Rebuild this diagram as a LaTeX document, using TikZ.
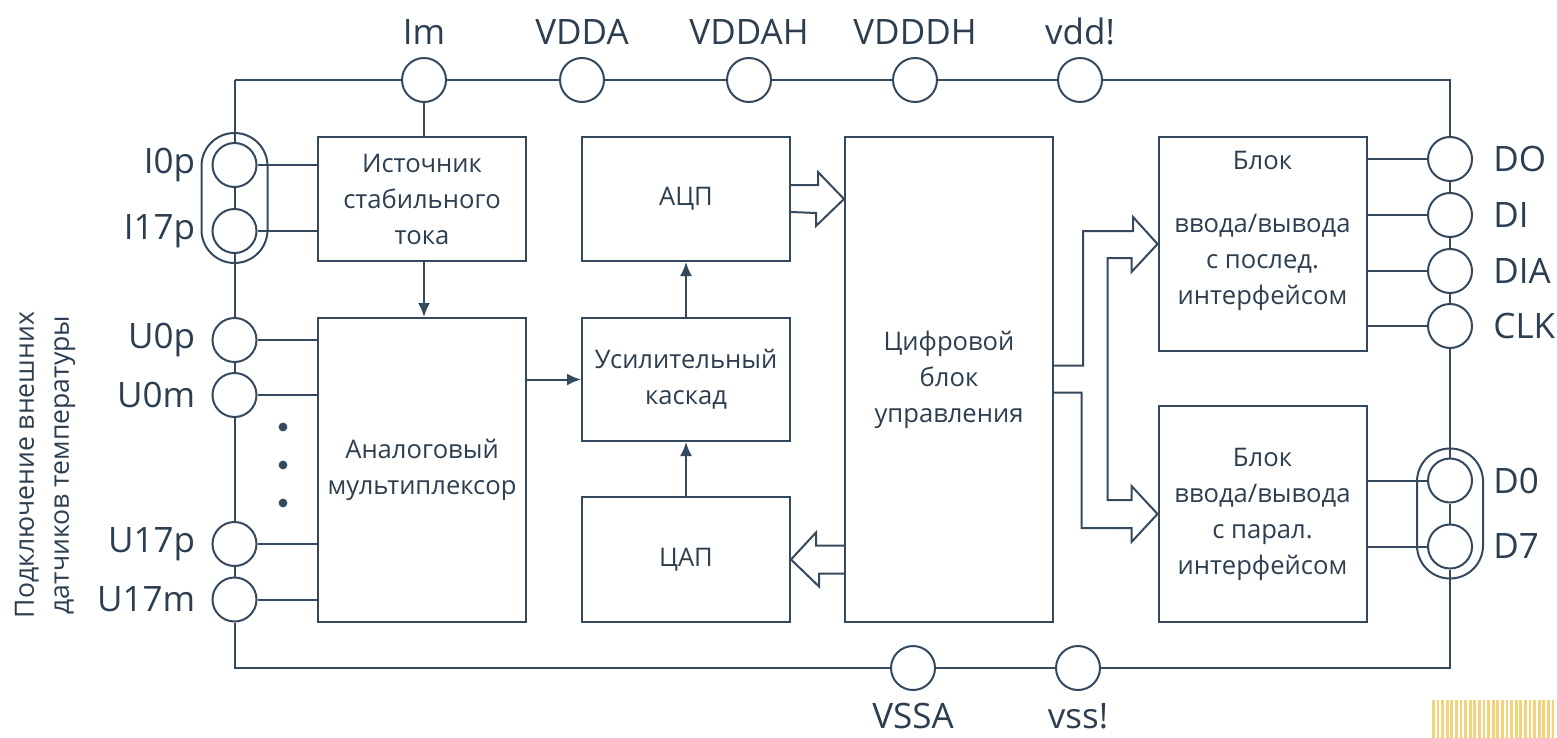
\documentclass[tikz,border=0pt]{standalone}
\usepackage{fontspec}
\setmainfont{Open Sans}
\usetikzlibrary{positioning,arrows.meta}
\definecolor{ink}{HTML}{34495E}
\definecolor{txt}{HTML}{2C3E50}
\definecolor{stripe}{HTML}{F6D27A}
\tikzset{
  pad/.style={circle,draw=ink,fill=white,line width=1pt,minimum size=22pt,inner sep=0pt},
  padname/.style={text=txt,font=\fontsize{17.5}{20}\selectfont,inner sep=0pt},
  capsule/.style={draw=ink,line width=1pt,rounded corners=16.5pt,minimum width=33pt,minimum height=65pt,inner sep=0pt},
  block/.style={draw=ink,line width=1pt,align=center,text=txt,font=\fontsize{12.8}{18}\selectfont,minimum width=104pt,inner sep=0pt},
  wire/.style={draw=ink,line width=1pt},
  sig/.style={wire,-{Latex[length=7pt,width=6pt]}},
  fat/.style={wire,line join=miter},
}
\begin{document}
\begin{tikzpicture}[x=0.5pt,y=-0.5pt]
\useasboundingbox (0,0) rectangle (1557,738);
\node[block,minimum height=62pt] (src) at (422,199) {Источник\\стабильного\\тока};
\node[block,minimum height=152pt] (mux) at (422,470) {Аналоговый\\мультиплексор};
\node[block,minimum height=62pt] (adc) at (686,199) {АЦП};
\node[block,minimum height=61.5pt] (amp) at (686,379.5) {Усилительный\\каскад};
\node[block,minimum height=62.5pt] (dac) at (686,559.5) {ЦАП};
\node[block,minimum height=242.5pt] (ctrl) at (949,379.5) {Цифровой\\блок\\управления};
\node[block,minimum height=107pt] (ser) at (1262.5,244) {\raisebox{13.5pt}[\height][\depth]{Блок}\\ввода/вывода\\с послед.\\интерфейсом};
\node[block,minimum height=108pt] (par) at (1262.5,514) {Блок\\ввода/вывода\\с парал.\\интерфейсом};
\node[capsule] (capL) at (234.5,198) {};
\node[capsule] (capR) at (1450,513.5) {};
\node[pad] (Im) at (424,80) {};
\node[pad] (VDDA) at (582,80) {};
\node[pad] (VDDAH) at (749,80) {};
\node[pad] (VDDDH) at (915,80) {};
\node[pad] (vdd) at (1080,80) {};
\node[pad] (VSSA) at (913,668) {};
\node[pad] (vss) at (1078,668) {};
\node[pad] (I0p) at (234.5,165) {};
\node[pad] (I17p) at (234.5,231) {};
\node[pad] (U0p) at (234.5,340) {};
\node[pad] (U0m) at (234.5,395) {};
\node[pad] (U17p) at (234.5,544) {};
\node[pad] (U17m) at (234.5,599.5) {};
\node[pad] (DO) at (1450,159) {};
\node[pad] (DI) at (1450,215) {};
\node[pad] (DIA) at (1450,271) {};
\node[pad] (CLK) at (1450,326) {};
\node[pad] (D0) at (1450,480.5) {};
\node[pad] (D7) at (1450,546.5) {};
\node[padname,above=6pt of Im] (lIm) {Im};
\node[padname,above=6pt of VDDA] (lVDDA) {VDDA};
\node[padname,above=6pt of VDDAH] (lVDDAH) {VDDAH};
\node[padname,above=6pt of VDDDH] (lVDDDH) {VDDDH};
\node[padname,above=6pt of vdd] (lvdd) {vdd!};
\node[padname,below=6pt of VSSA] (lVSSA) {VSSA};
\node[padname,below=6pt of vss] (lvss) {vss!};
\foreach \p in {I0p,I17p,U0p,U0m,U17p,U17m}
  \node[padname,left=8pt of \p] (l\p) {\p};
\foreach \p in {DO,DI,DIA,CLK,D0,D7}
  \node[padname,right=10pt of \p] (l\p) {\p};
\node[rotate=90,align=center,text=txt,font=\fontsize{13.3}{17.5}\selectfont] (sensors) at (45,465) {Подключение внешних\\датчиков температуры};
\coordinate (tl) at (234.5,80);
\coordinate (tr) at (1450,80);
\coordinate (bl) at (234.5,668);
\coordinate (br) at (1450,668);
\draw[wire] (tl) -- (Im) -- (VDDA) -- (VDDAH) -- (VDDDH) -- (vdd) -- (tr) -- (DO) -- (DI) -- (DIA) -- (CLK) -- (D0) -- (D7) -- (br) -- (vss) -- (VSSA) -- (bl) -- (U17m) -- (U17p) -- (U0m) -- (U0p) -- (I17p) -- (I0p) -- (tl);
\draw[wire] (Im) -- (Im |- src.north);
\draw[sig] (Im |- src.south) -- (Im |- mux.north);
\draw[sig] (mux.east |- amp.west) -- (amp.west);
\draw[sig] (amp) -- (adc);
\draw[sig] (dac) -- (amp);
\foreach \p in {I0p,I17p}
  \draw[wire] (\p) -- (\p -| src.west);
\foreach \p in {U0p,U0m,U17p,U17m}
  \draw[wire] (\p) -- (\p -| mux.west);
\foreach \p in {DO,DI,DIA,CLK}
  \draw[wire] (\p) -- (\p -| ser.east);
\foreach \p in {D0,D7}
  \draw[wire] (\p) -- (\p -| par.east);
\foreach \y in {427,465,503}
  \fill[ink] (283,\y) circle (2.2pt);
\coordinate (dacin) at (dac.east -| ctrl.west);
\draw[fat] ([yshift=7pt]adc.east) -- ++(27,0) -- ++(0,-13) -- (adc.east -| ctrl.west) -- ++(-28,27) -- ++(0,-13) -- ([yshift=-6.5pt]adc.east);
\draw[fat] ([yshift=7pt]dacin) -- ++(-28,0) -- ++(0,-13) -- (dac.east) -- ++(28,27) -- ++(0,-13) -- ([yshift=-7pt]dacin);
\draw[fat] ([yshift=7pt]ctrl.east) -- ++(29,0) -- ++(0,-134.5) -- ++(50,0) -- ++(0,-14) -- (ser.west) -- ++(-26,28) -- ++(0,-14) -- ++(-24,0) -- ++(0,242) -- ++(24,0) -- ++(0,-14) -- (par.west) -- ++(-26,28) -- ++(0,-14) -- ++(-50,0) -- ++(0,-135.5) -- ([yshift=-6.5pt]ctrl.east);
\foreach \i in {0,...,26}
  \fill[stripe] (1432+4.6*\i,700) rectangle ++(2.8,38);
\end{tikzpicture}
\end{document}
